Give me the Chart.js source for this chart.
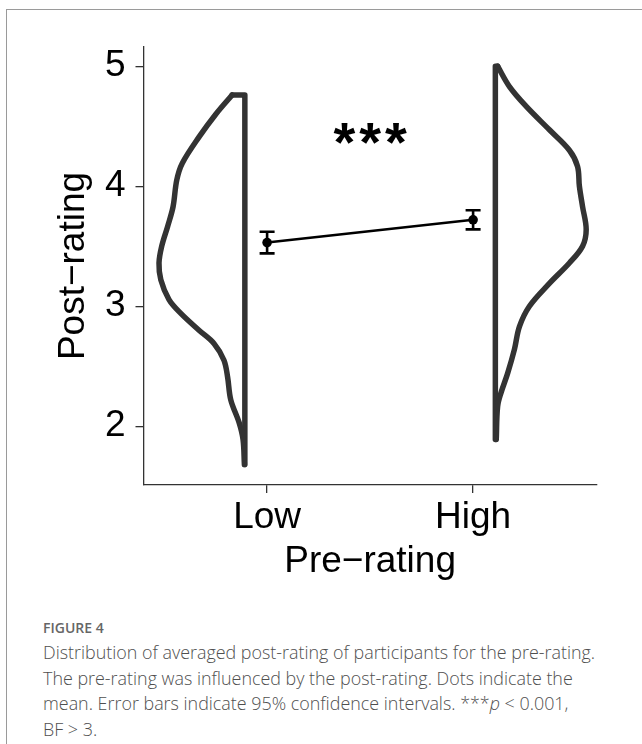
<!DOCTYPE html>
<html>
<head>
<meta charset="utf-8">
<script src="https://cdn.jsdelivr.net/npm/chart.js@4.4.1/dist/chart.umd.min.js"></script>
<style>
html,body{margin:0;padding:0;background:#fff;}
body{width:642px;height:744px;position:relative;overflow:hidden;}
#frame{position:absolute;left:6px;top:9px;width:700px;height:800px;border-left:1.5px solid #9a9a9a;border-top:1.5px solid #9a9a9a;}
#wrap{position:absolute;left:0;top:0;width:642px;height:600px;}
#cap{position:absolute;left:43px;top:616px;font-family:"Open Sans",sans-serif;color:#4f4f4f;}
.fig{font-size:14px;font-weight:600;color:#666;line-height:24px;}
.txt{font-size:17.9px;font-weight:300;line-height:25.5px;}
</style>
</head>
<body>
<div id="frame"></div>
<div id="wrap"><canvas id="chart" width="642" height="600"></canvas></div>
<div id="cap">
  <div class="fig">FIGURE 4</div>
  <div class="txt">Distribution of averaged post-rating of participants for the pre-rating.<br>The pre-rating was influenced by the post-rating. Dots indicate the<br>mean. Error bars indicate 95% confidence intervals. ***<i>p</i> &lt; 0.001,<br>BF &gt; 3.</div>
</div>
<script>
// ----- data -----
const categories = ["Low", "High"];
const meanRating = [3.53, 3.72];
const ciLower = [3.44, 3.64];
const ciUpper = [3.62, 3.80];
const yTicks = [2, 3, 4, 5];

// half-violin outlines: post-rating grid and relative density (peak = 1)
const lowY    = [4.76, 4.60, 4.415, 4.19, 4.05, 3.83, 3.665, 3.50, 3.36, 3.22, 3.055, 2.94, 2.80, 2.69, 2.55, 2.41, 2.22, 2.03, 1.89, 1.68];
const lowDens = [0.14, 0.32, 0.50, 0.69, 0.75, 0.79, 0.85, 0.915, 0.945, 0.925, 0.835, 0.705, 0.505, 0.34, 0.23, 0.19, 0.155, 0.063, 0.02, 0.005];
const highY    = [5.00, 4.83, 4.665, 4.47, 4.30, 4.165, 4.00, 3.83, 3.64, 3.50, 3.36, 3.19, 3.00, 2.83, 2.64, 2.44, 2.28, 2.165, 1.89];
const highDens = [0.025, 0.155, 0.34, 0.595, 0.815, 0.905, 0.925, 0.96, 1.0, 0.96, 0.815, 0.595, 0.375, 0.265, 0.21, 0.135, 0.063, 0.025, 0.01];

const signifText = "***";
const signifY = 4.44;

// ----- helpers -----
const NUDGE = 0.108, VW = 0.441;
const INK = "#333333";
const FONT = '"Liberation Sans", Arial, sans-serif';

function outline(ys, ds, center, side){
  const base = center + side*NUDGE;
  return ys.map((y,i)=>({x: base + side*ds[i]*VW, y}));
}
function spine(ys, ds, center, side){
  // flat top cap + straight back edge of the half violin
  const base = center + side*NUDGE;
  const top = ys[0], bot = ys[ys.length-1];
  return [{x: base + side*ds[0]*VW, y: top}, {x: base, y: top}, {x: base, y: bot}];
}
const violinStyle = {type:"line", borderColor:INK, borderWidth:5.5, pointRadius:0, fill:false,
  borderCapStyle:"round", borderJoinStyle:"round"};

const datasets = [
  {...violinStyle, data: outline(lowY, lowDens, 1, -1), tension:0.35},
  {...violinStyle, data: spine(lowY, lowDens, 1, -1), tension:0},
  {...violinStyle, data: outline(highY, highDens, 2, 1), tension:0.35},
  {...violinStyle, data: spine(highY, highDens, 2, 1), tension:0},
  {type:"line", data: categories.map((c,i)=>({x:i+1, y:meanRating[i]})),
   borderColor:"#000", borderWidth:2.5, pointRadius:4.8, pointBackgroundColor:"#000", pointBorderWidth:0, tension:0}
];
categories.forEach((c,i)=>{
  datasets.push({type:"line", data:[{x:i+1, y:ciLower[i]}, {x:i+1, y:ciUpper[i]}],
    borderColor:"#000", borderWidth:2.6, pointStyle:"line", pointRadius:7.5,
    pointBorderColor:"#000", pointBorderWidth:2.6, tension:0});
});

const signifPlugin = {
  id:"signif",
  afterDatasetsDraw(chart){
    const {ctx, scales:{x, y}} = chart;
    const size = 56;
    ctx.save();
    ctx.font = `bold ${size}px ${FONT}`;
    ctx.fillStyle = "#000";
    ctx.textAlign = "center";
    ctx.textBaseline = "middle";
    if("letterSpacing" in ctx) ctx.letterSpacing = "4px";
    ctx.fillText(signifText, x.getPixelForValue(1.5) + 2, y.getPixelForValue(signifY) + 0.22*size);
    ctx.restore();
  }
};

const axisFont = {family: FONT, size: 37};
new Chart(document.getElementById("chart"), {
  type:"line",
  data:{datasets},
  plugins:[signifPlugin],
  options:{
    responsive:false, animation:false, devicePixelRatio:1,
    layout:{padding:{left:0, top:47, right:45.3, bottom:15}},
    plugins:{legend:{display:false}, tooltip:{enabled:false}},
    scales:{
      x:{type:"linear", min:0.4, max:2.6,
        afterBuildTicks:(s)=>{ s.ticks = categories.map((c,i)=>({value:i+1})); },
        afterFit:(s)=>{ s.height = 100; },
        ticks:{callback:(v)=>categories[v-1], font:axisFont, color:"#000", padding:2.8, maxRotation:0},
        grid:{drawOnChartArea:false, drawTicks:true, tickLength:8, color:INK, lineWidth:1.3},
        border:{display:true, color:INK, width:1.3},
        title:{display:true, text:"Pre\u2212rating", font:axisFont, color:"#000", padding:{top:0, bottom:1.3}}
      },
      y:{type:"linear", min:1.51, max:5.16,
        afterBuildTicks:(s)=>{ s.ticks = yTicks.map(v=>({value:v})); },
        afterFit:(s)=>{ s.width = 143.5; },
        ticks:{font:axisFont, color:"#000", padding:10},
        grid:{drawOnChartArea:false, drawTicks:true, tickLength:8, color:INK, lineWidth:1.3},
        border:{display:true, color:INK, width:1.3},
        title:{display:true, text:"Post\u2212rating", font:axisFont, color:"#000", padding:{top:51.7, bottom:0}}
      }
    }
  }
});
</script>
</body>
</html>
